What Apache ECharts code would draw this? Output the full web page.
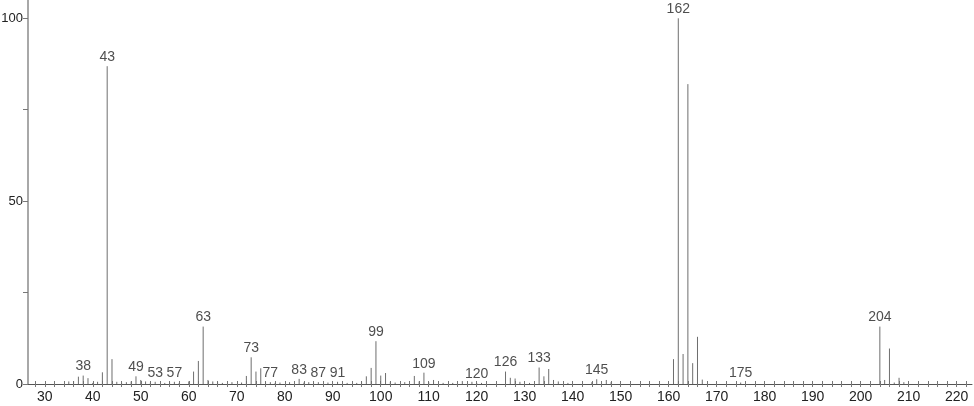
<!DOCTYPE html>
<html>
<head>
<meta charset="utf-8">
<script src="https://cdn.jsdelivr.net/npm/echarts@6/dist/echarts.min.js"></script>
<style>
  html, body { margin: 0; padding: 0; background: #fff; }
  #chart { width: 974px; height: 406px; }
</style>
</head>
<body>
<div id="chart"></div>
<script>
// m/z values and relative intensities (%)
const mz = [
  35, 36, 37, 38, 39, 40, 41, 42, 43, 44, 45, 46, 47, 48, 49, 50, 51, 52, 53, 55,
  56, 57, 58, 60, 61, 62, 63, 64, 65, 66, 67, 69, 71, 72, 73, 74, 75, 76, 77, 78,
  79, 81, 83, 84, 85, 86, 87, 89, 91, 93, 95, 96, 97, 98, 99, 100, 101, 102, 103, 105,
  107, 108, 109, 110, 111, 113, 115, 117, 119, 120, 121, 126, 127, 128, 129, 131, 133, 134, 135, 136,
  137, 139, 144, 145, 147, 148, 156, 161, 162, 163, 164, 165, 166, 167, 175, 204, 205, 206, 207, 208,
  209
]
const intensity = [
  0.7, 0.8, 2.0, 2.3, 1.6, 0.3, 0.6, 3.2, 86.9, 6.8, 0.6, 0.3, 0.5, 0.7, 2.1, 1.1, 0.7, 0.4, 0.6, 0.3,
  0.5, 0.6, 0.3, 0.7, 3.4, 6.3, 15.7, 1.1, 0.7, 0.5, 0.3, 0.5, 0.4, 2.2, 7.3, 3.4, 4.3, 0.5, 0.5, 0.3,
  0.4, 0.5, 1.4, 0.4, 0.5, 0.3, 0.5, 0.4, 0.6, 0.3, 0.3, 0.7, 2.1, 4.4, 11.7, 2.3, 3.0, 0.6, 0.4, 0.5,
  2.2, 0.7, 3.1, 0.5, 1.1, 0.3, 0.3, 0.8, 0.6, 0.3, 0.3, 3.4, 1.7, 1.5, 0.6, 0.3, 4.5, 2.1, 4.1, 1.1,
  0.7, 0.3, 0.5, 1.3, 1.1, 0.5, 0.5, 6.8, 100, 8.2, 82.0, 5.7, 12.9, 1.2, 0.4, 15.7, 1.1, 9.7, 0.4, 1.7,
  0.5
]
// peaks that carry an m/z annotation
const labeledPeaks = [38, 43, 49, 53, 57, 63, 73, 77, 83, 87, 91, 99, 109, 120, 126, 133, 145, 162, 175, 204]

const xTicks = []
for (let v = 28; v <= 222; v += 2) xTicks.push(v)
const xLabels = [30, 40, 50, 60, 70, 80, 90, 100, 110, 120, 130, 140, 150, 160, 170, 180, 190, 200, 210, 220]
const yTicks = [0, 25, 50, 75, 100]
const yLabels = [0, 50, 100]

const font = '"Liberation Sans", Arial, sans-serif'
const colors = {
  stick: '#6e6e6e',
  text: '#222',
  xAxis: '#555',
  yAxis: '#a8a8a8',
  tick: '#777',
}

const sticks = mz.map((m, i) => [m, intensity[i]])
const labels = labeledPeaks.map((m) => [m, intensity[mz.indexOf(m)]])

const xRange = { min: 26.5, max: 223.2 }

const chart = echarts.init(document.getElementById('chart'))
chart.setOption({
  animation: false,
  backgroundColor: '#fff',
  textStyle: { fontFamily: font },
  grid: { left: 28, right: 2, top: 0, bottom: 22, outerBoundsMode: 'none', containLabel: false },
  xAxis: [
    {
      type: 'value',
      ...xRange,
      axisLine: { lineStyle: { color: colors.xAxis, width: 1 } },
      axisTick: { show: true, customValues: xTicks, length: 3, lineStyle: { color: colors.tick } },
      axisLabel: { customValues: xLabels, margin: 6, fontSize: 14, color: colors.text, fontFamily: font },
      splitLine: { show: false },
    },
    {
      type: 'value',
      ...xRange,
      position: 'bottom',
      axisLine: { show: false },
      axisTick: { show: true, inside: true, customValues: xTicks, length: 3, lineStyle: { color: colors.tick } },
      axisLabel: { show: false },
      splitLine: { show: false },
    },
  ],
  yAxis: {
    type: 'value',
    min: 0,
    max: 105,
    axisLine: { show: true, lineStyle: { color: colors.yAxis, width: 2 } },
    axisTick: { show: true, customValues: yTicks, length: 5, lineStyle: { color: colors.tick } },
    axisLabel: { customValues: yLabels, margin: 5, fontSize: 13, color: colors.text, fontFamily: font },
    splitLine: { show: false },
  },
  series: [
    {
      type: 'custom',
      data: sticks,
      renderItem: (params, api) => {
        const p0 = api.coord([api.value(0), 0])
        const p1 = api.coord([api.value(0), api.value(1)])
        return {
          type: 'line',
          shape: { x1: p0[0], y1: p0[1], x2: p1[0], y2: p1[1] },
          style: { stroke: colors.stick, lineWidth: 1 },
        }
      },
      z: 3,
    },
    {
      type: 'scatter',
      data: labels,
      symbolSize: 0,
      label: {
        show: true,
        position: 'top',
        distance: 2,
        formatter: (p) => String(p.value[0]),
        fontSize: 14,
        color: colors.text,
        fontFamily: font,
      },
      z: 4,
    },
  ],
})
</script>
</body>
</html>
